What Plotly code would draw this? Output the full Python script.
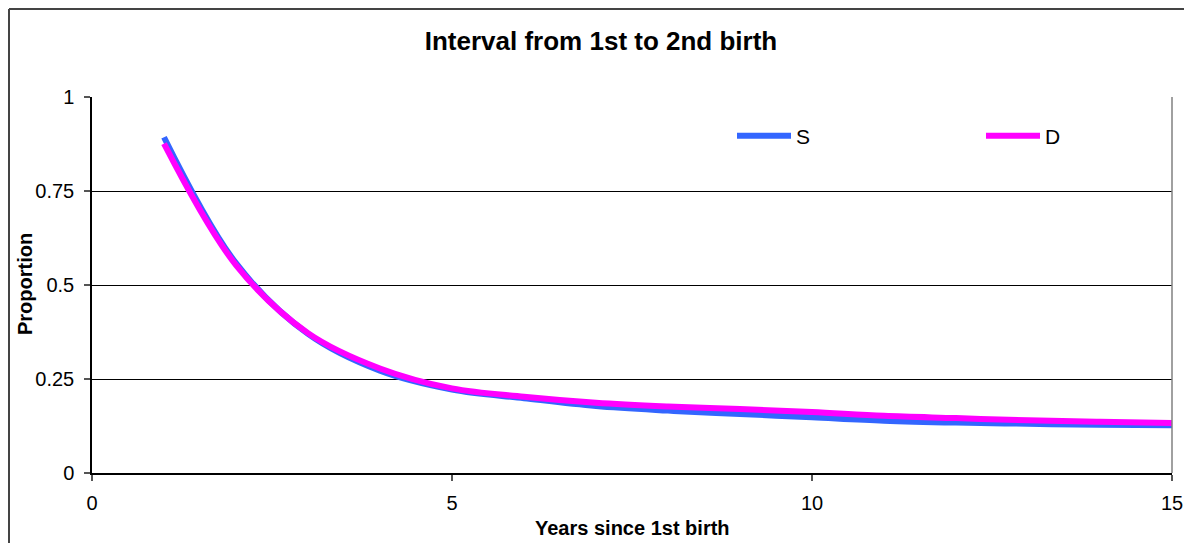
import plotly.graph_objects as go

years = [1, 2, 3, 4, 5, 6, 7, 8, 9, 10, 11, 12, 13, 14, 15]
s_values = [0.893, 0.558, 0.370, 0.272, 0.222, 0.199, 0.178, 0.166, 0.157, 0.148, 0.139, 0.134, 0.131, 0.128, 0.127]
d_values = [0.876, 0.553, 0.372, 0.278, 0.225, 0.203, 0.187, 0.177, 0.170, 0.162, 0.152, 0.146, 0.140, 0.136, 0.133]
x_ticks = [0, 5, 10, 15]
y_ticks = [0, 0.25, 0.5, 0.75, 1]
y_tick_labels = ["0", "0.25", "0.5", "0.75", "1"]

FONT = "Liberation Sans, Arial, sans-serif"

# page offset of the figure inside the html body
OFF = 8
PAGE_W, PAGE_H = 1192, 543
W, H = PAGE_W - OFF, PAGE_H - OFF
# plot area in figure pixels
L, R, T, B = 92 - OFF, 1172 - OFF, 97 - OFF, 473 - OFF
pw, ph = R - L, B - T


def px_x(p):
    return (p - L) / pw


def px_y(p):
    return (B - p) / ph


fig = go.Figure()
fig.add_trace(go.Scatter(x=years, y=s_values, name="S", mode="lines", legend="legend",
                         line=dict(color="#3366FF", width=6, shape="spline", smoothing=1.0)))
fig.add_trace(go.Scatter(x=years, y=d_values, name="D", mode="lines", legend="legend2",
                         line=dict(color="#FF00FF", width=6, shape="spline", smoothing=1.0)))

leg_common = dict(orientation="h", xanchor="left", yanchor="middle", itemwidth=54,
                  font=dict(size=21, family=FONT, color="black"),
                  bgcolor="rgba(0,0,0,0)", itemclick=False, itemdoubleclick=False,
                  borderwidth=0)

fig.update_layout(
    width=W, height=H,
    margin=dict(l=L, r=W - R, t=T, b=H - B, pad=0, autoexpand=False),
    paper_bgcolor="white", plot_bgcolor="white",
    font=dict(family=FONT, size=20, color="black"),
    title=dict(text="<b>Interval from 1st to 2nd birth</b>", x=(601 - OFF) / W, xref="container",
               xanchor="center", y=1 - (41 - OFF) / H, yref="container", yanchor="middle",
               font=dict(size=26, family=FONT, color="black")),
    showlegend=True,
    legend=dict(x=px_x(732 - OFF), y=px_y(136 - OFF), **leg_common),
    legend2=dict(x=px_x(981 - OFF), y=px_y(136 - OFF), **leg_common),
    xaxis=dict(range=[0, 15], tickvals=x_ticks, ticktext=[str(v) for v in x_ticks],
               showgrid=False, zeroline=False, showline=True, linecolor="black", linewidth=1.5,
               ticks="outside", ticklen=6, tickcolor="#555", tickwidth=1.5,
               ticklabelstandoff=5, tickfont=dict(size=20),
               fixedrange=True, automargin=False),
    yaxis=dict(range=[0, 1], tickvals=y_ticks, ticktext=y_tick_labels,
               showgrid=True, gridcolor="black", gridwidth=1,
               zeroline=False, showline=True, linecolor="black", linewidth=1.5,
               ticks="outside", ticklen=6, tickcolor="#555", tickwidth=1.5,
               ticklabelstandoff=6, tickfont=dict(size=20),
               fixedrange=True, automargin=False),
    annotations=[
        dict(text="<b>Years since 1st birth</b>", xref="paper", yref="paper",
             x=px_x(632 - OFF), y=px_y(528 - OFF), xanchor="center", yanchor="middle",
             showarrow=False, font=dict(size=20, family=FONT, color="black")),
        dict(text="<b>Proportion</b>", xref="paper", yref="paper", textangle=-90,
             x=px_x(25 - OFF), y=px_y(284 - OFF), xanchor="center", yanchor="middle",
             showarrow=False, font=dict(size=20, family=FONT, color="black")),
    ],
)

# plot-area border (right), chart-area border (left and top)
fig.add_shape(type="line", xref="paper", yref="paper", x0=1, x1=1, y0=0, y1=1,
              line=dict(color="#808080", width=1.5))
fig.add_shape(type="line", xref="paper", yref="paper", x0=px_x(1), x1=px_x(1), y0=px_y(H + 20), y1=px_y(1),
              line=dict(color="#444", width=2))
fig.add_shape(type="line", xref="paper", yref="paper", x0=px_x(1), x1=px_x(W + 20), y0=px_y(1), y1=px_y(1),
              line=dict(color="#444", width=2))

fig.write_html("out.html")
